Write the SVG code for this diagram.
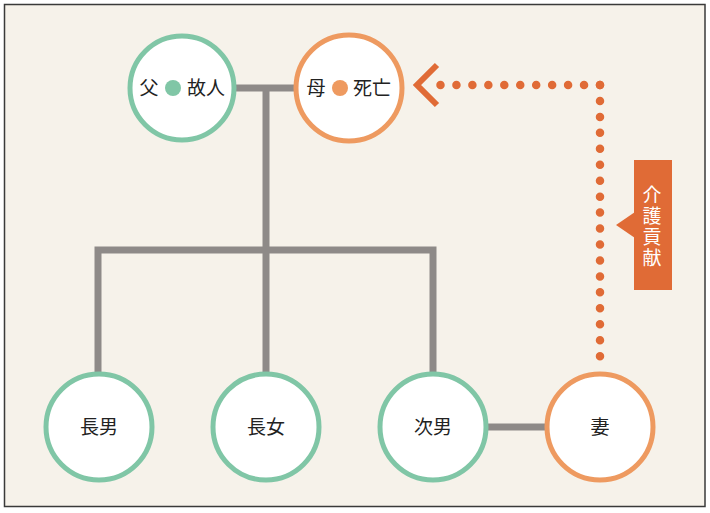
<svg xmlns="http://www.w3.org/2000/svg" width="710" height="513" viewBox="0 0 710 513">
<style>
.bg{fill:#f6f2ea;stroke:#3a3a3a;stroke-width:1.5}
.line{stroke:#8e8a88;stroke-width:7;fill:none}
.g{fill:#ffffff;stroke:#80c6a6;stroke-width:5}
.o{fill:#ffffff;stroke:#ee9a60;stroke-width:5}
.t{font-family:"Noto Sans CJK JP","Noto Sans",sans-serif;font-size:19px;fill:#222222;text-anchor:middle}
.dots{stroke:#e06b36;stroke-width:8.5;stroke-linecap:round;stroke-dasharray:0 15.95;fill:none}
.w{font-family:"Noto Sans CJK JP","Noto Sans",sans-serif;font-size:19px;fill:#ffffff;writing-mode:vertical-rl;letter-spacing:2px}
</style>
<rect x="0" y="0" width="710" height="513" fill="#ffffff"/>
<rect class="bg" x="4.5" y="4.5" width="700.5" height="502"/>
<g id="connectors">
<line class="line" x1="236" y1="88" x2="296" y2="88"/>
<polyline class="line" points="266,88 266,250"/>
<polyline class="line" points="98,372 98,250 433,250 433,372"/>
<line class="line" x1="266" y1="250" x2="266" y2="372"/>
<line class="line" x1="486" y1="427" x2="546" y2="427"/>
<path class="dots" d="M600,85 V372"/>
<path class="dots" d="M600,85 H440"/>
<polyline points="437,65 417,85 437,105" fill="none" stroke="#e06b36" stroke-width="6"/>
</g>
<g id="label-kaigo">
<rect x="634" y="160" width="38" height="130" fill="#e06b36"/>
<polygon points="616,225 635,212 635,238" fill="#e06b36"/>
<text class="w" x="652" y="185">介護貢献</text>
</g>
<g id="father">
<circle class="g" cx="182" cy="88" r="52"/>
<text class="t" x="149" y="95">父</text>
<circle cx="173" cy="88" r="8" fill="#80c6a6"/>
<text class="t" x="206" y="95">故人</text>
</g>
<g id="mother">
<circle class="o" cx="349" cy="88" r="53"/>
<text class="t" x="316" y="95">母</text>
<circle cx="340" cy="88" r="8" fill="#ee9a60"/>
<text class="t" x="372" y="95">死亡</text>
</g>
<g id="chonan">
<circle class="g" cx="99" cy="427" r="53"/>
<text class="t" x="99" y="434">長男</text>
</g>
<g id="chojo">
<circle class="g" cx="266" cy="427" r="53"/>
<text class="t" x="266" y="434">長女</text>
</g>
<g id="jinan">
<circle class="g" cx="433" cy="427" r="53"/>
<text class="t" x="433" y="434">次男</text>
</g>
<g id="tsuma">
<circle class="o" cx="600" cy="427" r="53"/>
<text class="t" x="600" y="434">妻</text>
</g>
</svg>
